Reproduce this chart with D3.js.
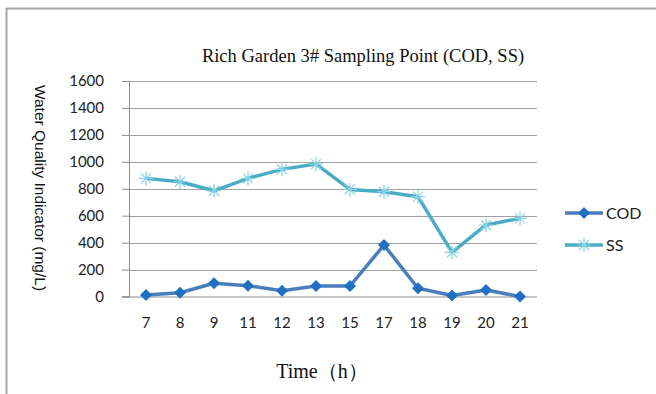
<!DOCTYPE html>
<html>
<head>
<meta charset="utf-8">
<script src="https://cdn.jsdelivr.net/npm/d3@7"></script>
<style>
  body { margin: 0; background: #fff; }
  svg { display: block; }
</style>
</head>
<body>
<svg id="chart" width="656" height="394"></svg>
<script>
var HOURS = ["7", "8", "9", "11", "12", "13", "15", "17", "18", "19", "20", "21"];
var COD_VALUES = [12, 28, 98, 80, 43, 78, 78, 382, 61, 8, 48, 0];
var SS_VALUES = [877, 852, 785, 877, 944, 983, 795, 778, 741, 328, 531, 580];
var Y_TICKS = [0, 200, 400, 600, 800, 1000, 1200, 1400, 1600];

var COD_LINE = "#4a7ebb";
var COD_MARK = "#1f6fc3";
var SS_LINE = "#4bacc6";
var SS_MARK = "#86d1e6";

var svg = d3.select("#chart");

// outer frame (only top and left edges visible)
svg.append("line").attr("x1", 6).attr("x2", 656).attr("y1", 8.5).attr("y2", 8.5)
    .attr("stroke", "#a6a6a6").attr("stroke-width", 2);
svg.append("line").attr("x1", 6.5).attr("x2", 6.5).attr("y1", 8).attr("y2", 394)
    .attr("stroke", "#a6a6a6").attr("stroke-width", 2);

var plotLeft = 129, plotRight = 537, plotTop = 81, plotBottom = 296.5;

var x = d3.scaleBand().domain(HOURS).range([plotLeft, plotRight]);
var y = d3.scaleLinear().domain([0, 1600]).range([plotBottom, plotTop]);

// gridlines
svg.append("g").selectAll("line").data(Y_TICKS.slice(1)).enter().append("line")
    .attr("x1", plotLeft).attr("x2", plotRight)
    .attr("y1", function (d) { return Math.round(y(d)) + 0.5; })
    .attr("y2", function (d) { return Math.round(y(d)) + 0.5; })
    .attr("stroke", "#a0a0a0").attr("stroke-width", 1);

var yAxis = d3.axisLeft(y).tickValues(Y_TICKS).tickFormat(d3.format("d"))
    .tickSize(7).tickPadding(18);
var gy = svg.append("g").attr("transform", "translate(" + plotLeft + ",0)").call(yAxis);
gy.select(".domain").attr("stroke", "#8c8c8c");
gy.selectAll(".tick line").attr("stroke", "#8c8c8c");
gy.selectAll("text").attr("font-family", "Lato, 'Open Sans', sans-serif")
    .attr("font-size", 15).attr("fill", "#222");

var xAxis = d3.axisBottom(x).tickSize(0).tickPadding(21);
var gx = svg.append("g").attr("transform", "translate(0," + plotBottom + ")").call(xAxis);
gx.select(".domain").attr("d", "M" + (plotLeft - 7) + ",0.5H" + plotRight).attr("stroke", "#8c8c8c");
gx.selectAll("text").attr("font-family", "Lato, 'Open Sans', sans-serif")
    .attr("font-size", 15).attr("fill", "#222");

function cx(i) { return x(HOURS[i]) + x.bandwidth() / 2; }

var line = d3.line()
    .x(function (d, i) { return cx(i); })
    .y(function (d) { return y(d); });

// SS series
svg.append("path").datum(SS_VALUES).attr("d", line)
    .attr("fill", "none").attr("stroke", SS_LINE).attr("stroke-width", 3.5)
    .attr("stroke-linejoin", "round");
var star = "M-7,0H7M0,-7V7M-5,-5L5,5M-5,5L5,-5";
svg.append("g").selectAll("path").data(SS_VALUES).enter().append("path")
    .attr("d", star)
    .attr("transform", function (d, i) { return "translate(" + cx(i) + "," + y(d) + ")"; })
    .attr("stroke", SS_MARK).attr("stroke-width", 1.2).attr("fill", "none");

// COD series
svg.append("path").datum(COD_VALUES).attr("d", line)
    .attr("fill", "none").attr("stroke", COD_LINE).attr("stroke-width", 3.5)
    .attr("stroke-linejoin", "round");
var diamond = "M0,-6L6,0L0,6L-6,0Z";
svg.append("g").selectAll("path").data(COD_VALUES).enter().append("path")
    .attr("d", diamond)
    .attr("transform", function (d, i) { return "translate(" + cx(i) + "," + y(d) + ")"; })
    .attr("fill", COD_MARK);

// legend
var legend = [
    { name: "COD", line: COD_LINE, mark: COD_MARK, shape: diamond, y: 213 },
    { name: "SS", line: SS_LINE, mark: SS_MARK, shape: star, y: 245 }
];
var lg = svg.append("g").selectAll("g").data(legend).enter().append("g")
    .attr("transform", function (d) { return "translate(565," + d.y + ")"; });
lg.append("line").attr("x1", 0).attr("x2", 38).attr("y1", 0).attr("y2", 0)
    .attr("stroke", function (d) { return d.line; }).attr("stroke-width", 3.5);
lg.append("path").attr("d", function (d) { return d.shape; })
    .attr("transform", "translate(19,0)")
    .attr("fill", function (d) { return d.name === "COD" ? d.mark : "none"; })
    .attr("stroke", function (d) { return d.name === "SS" ? d.mark : "none"; })
    .attr("stroke-width", 1.2);
lg.append("text").attr("x", 41).attr("y", 5.5).text(function (d) { return d.name; })
    .attr("font-family", "Lato, 'Open Sans', sans-serif").attr("font-size", 16).attr("fill", "#222");

// titles
svg.append("text").attr("x", 363).attr("y", 62).attr("text-anchor", "middle")
    .attr("font-family", "'Liberation Serif', 'DejaVu Serif', serif").attr("font-size", 18.5)
    .attr("fill", "#111").text("Rich Garden 3# Sampling Point (COD, SS)");

svg.append("text").attr("x", 322).attr("y", 378).attr("text-anchor", "middle")
    .attr("font-family", "'Liberation Serif', 'DejaVu Serif', serif").attr("font-size", 20)
    .attr("fill", "#111").text("Time（h）");

svg.append("text")
    .attr("transform", "translate(35,188) rotate(90)")
    .attr("text-anchor", "middle")
    .attr("font-family", "'Liberation Sans Narrow', 'Liberation Sans', sans-serif")
    .attr("font-size", 15.5).attr("fill", "#111")
    .text("Water Quality Indicator (mg/L)");
</script>
</body>
</html>
